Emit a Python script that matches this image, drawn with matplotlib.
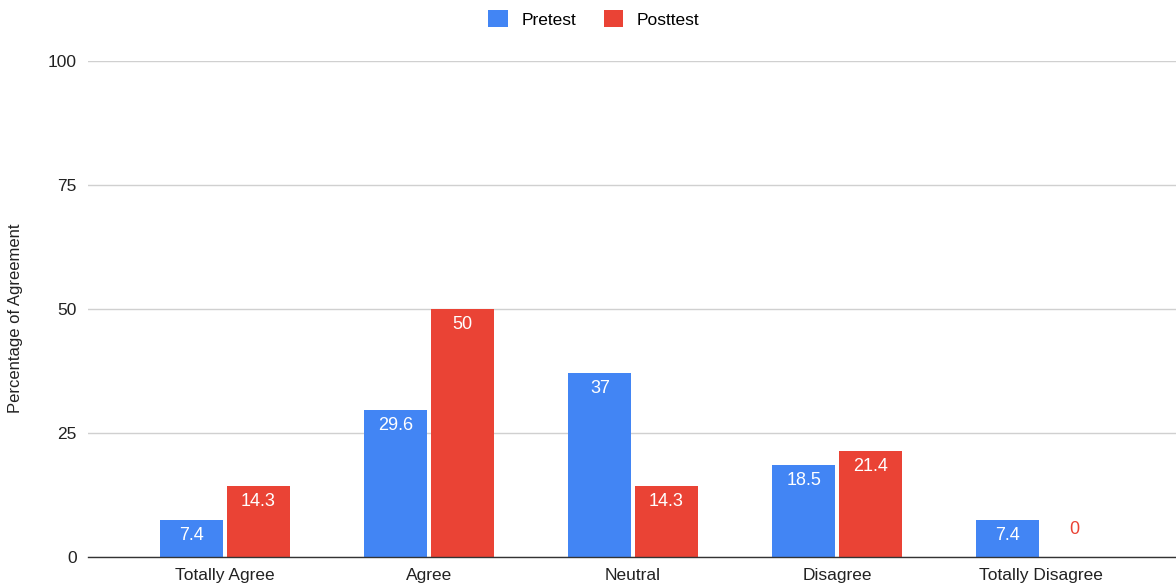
import matplotlib.pyplot as plt
import numpy as np
from matplotlib.patches import Patch

plt.rcParams['font.family'] = ['Liberation Sans', 'DejaVu Sans']

categories = ['Totally Agree', 'Agree', 'Neutral', 'Disagree', 'Totally Disagree']
pretest = [7.4, 29.6, 37, 18.5, 7.4]
posttest = [14.3, 50, 14.3, 21.4, 0]
yticks = [0, 25, 50, 75, 100]

blue = '#4285F4'
red = '#EA4335'

fig = plt.figure(figsize=(11.76, 5.88), dpi=100)
ax = fig.add_axes([88 / 1176, 1 - 557 / 588, (1176 - 88) / 1176, (557 - 61) / 588])

x = np.arange(len(categories))
w = 0.31
off = 0.1625
b1 = ax.bar(x - off, pretest, w, color=blue, zorder=3)
b2 = ax.bar(x + off, posttest, w, color=red, zorder=3)

for bars, vals, col in [(b1, pretest, blue), (b2, posttest, red)]:
    for rect, v in zip(bars, vals):
        cx = rect.get_x() + rect.get_width() / 2
        lab = f'{v:g}'
        if v > 3:
            ax.annotate(lab, (cx, v), xytext=(0, -11), textcoords='offset points',
                        ha='center', va='center', color='white', fontsize=13, zorder=4)
        else:
            ax.annotate(lab, (cx, v), xytext=(0, 20), textcoords='offset points',
                        ha='center', va='center', color=col, fontsize=13, zorder=4)

ax.set_xlim(-137 / 204, (1176 - 225) / 204)
ax.set_ylim(0, 100)
ax.set_yticks(yticks)
ax.set_xticks(x)
ax.set_xticklabels(categories, fontsize=12.5, color='#222222')
ax.tick_params(axis='y', labelsize=12.5, length=0, pad=8, labelcolor='#222222')
ax.tick_params(axis='x', length=0, pad=8)
ax.grid(axis='y', color='#d0d0d0', linewidth=1, zorder=0)
for s in ['top', 'right', 'left']:
    ax.spines[s].set_visible(False)
ax.spines['bottom'].set_color('#333333')
ax.spines['bottom'].set_linewidth(1)
ax.spines['bottom'].set_zorder(5)

fig.text(16 / 1176, 1 - 318 / 588, 'Percentage of Agreement', rotation=90,
         ha='center', va='center', fontsize=12, color='#222222')

handles = [Patch(facecolor=blue, label='Pretest'), Patch(facecolor=red, label='Posttest')]
fig.legend(handles=handles, loc='center', bbox_to_anchor=(594 / 1176, 1 - 19 / 588), ncol=2,
           frameon=False, fontsize=12.5, handlelength=1.1, handleheight=1.1,
           columnspacing=1.6, handletextpad=0.8)

fig.savefig('out.png', dpi=100)
